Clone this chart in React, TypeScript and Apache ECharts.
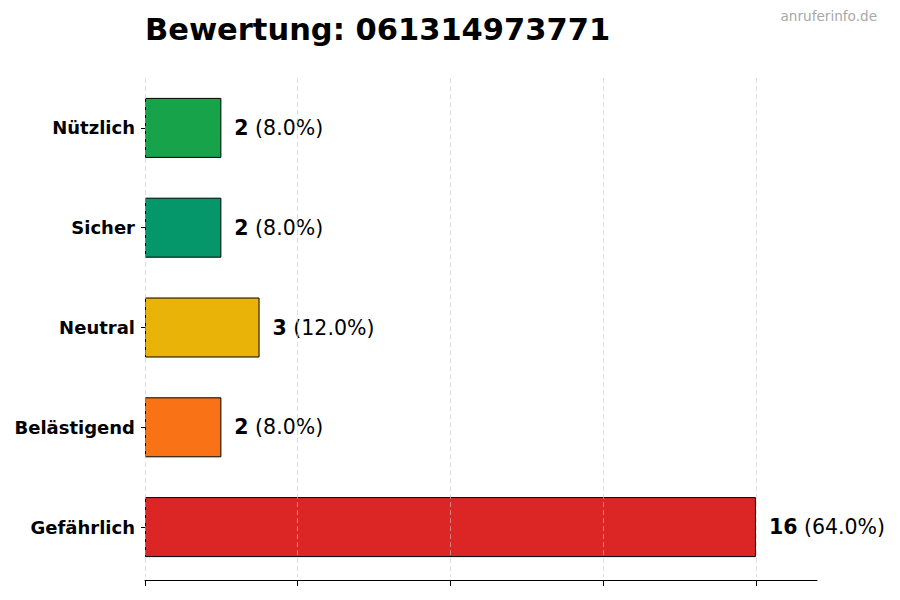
import React, { useEffect, useRef } from "react";
import * as echarts from "echarts";

const categories = ["Nützlich", "Sicher", "Neutral", "Belästigend", "Gefährlich"];
const counts = [2, 2, 3, 2, 16];
const barColors = ["#16a34a", "#059669", "#eab308", "#f97316", "#dc2626"];
const gridValues = [0, 4, 8, 12, 16];
const titleText = "Bewertung: 061314973771";
const watermark = "anruferinfo.de";

const FONT = "DejaVu Sans";

export default function App() {
  const ref = useRef<HTMLDivElement>(null);
  useEffect(() => {
    document.body.style.margin = "0";
    if (!ref.current) return;
    const chart = echarts.init(ref.current, null, { renderer: "svg" });
    const total = counts.reduce((a, b) => a + b, 0);
    chart.setOption({
      animation: false,
      backgroundColor: "#ffffff",
      textStyle: { fontFamily: FONT },
      graphic: [
        {
          type: "text",
          left: 145,
          top: 14,
          style: {
            text: titleText,
            fontFamily: FONT,
            fontSize: 30.5,
            fontWeight: "bold",
            fill: "#000000",
          },
        },
        {
          type: "text",
          right: 23,
          top: 9,
          style: {
            text: watermark,
            fontFamily: FONT,
            fontSize: 13.6,
            fill: "#a8a8a8",
          },
        },
      ],
      grid: { left: 145, right: 83, top: 78, bottom: 23, containLabel: false },
      xAxis: {
        type: "value",
        min: 0,
        max: 17.6,
        interval: 4,
        offset: 3,
        axisLine: { show: true, lineStyle: { color: "#000000", width: 1 } },
        axisTick: {
          show: true,
          length: 6,
          customValues: gridValues,
          lineStyle: { color: "#000000", width: 1 },
        },
        axisLabel: { show: false },
        splitLine: { show: false },
      },
      yAxis: {
        type: "category",
        data: categories,
        inverse: true,
        axisLine: { show: false },
        axisTick: {
          show: true,
          alignWithLabel: true,
          length: 4,
          lineStyle: { color: "#000000", width: 1 },
        },
        axisLabel: {
          fontFamily: FONT,
          fontSize: 18,
          fontWeight: "bold",
          color: "#000000",
          margin: 10,
        },
      },
      series: [
        {
          type: "bar",
          barWidth: 60,
          data: counts.map((v, i) => ({
            value: v,
            itemStyle: { color: barColors[i], borderColor: "#000000", borderWidth: 1 },
          })),
          label: {
            show: true,
            position: "right",
            distance: 13,
            formatter: (p: any) =>
              `{b|${p.value}}{s| }{n|(${((p.value / total) * 100).toFixed(1)}%)}`,
            rich: {
              b: { fontFamily: FONT, fontSize: 20.5, fontWeight: "bold", color: "#000000" },
              s: { fontFamily: FONT, fontSize: 20.5, color: "#000000", width: 6.5 },
              n: { fontFamily: FONT, fontSize: 20.5, color: "#000000" },
            },
          },
          markLine: {
            silent: true,
            symbol: "none",
            label: { show: false },
            lineStyle: { color: "#c8c8c8", type: [5, 3], width: 1, opacity: 0.6 },
            data: gridValues.map((v) => ({ xAxis: v })),
          },
        },
      ],
    });
    return () => chart.dispose();
  }, []);
  return <div ref={ref} style={{ width: 900, height: 600 }} />;
}
